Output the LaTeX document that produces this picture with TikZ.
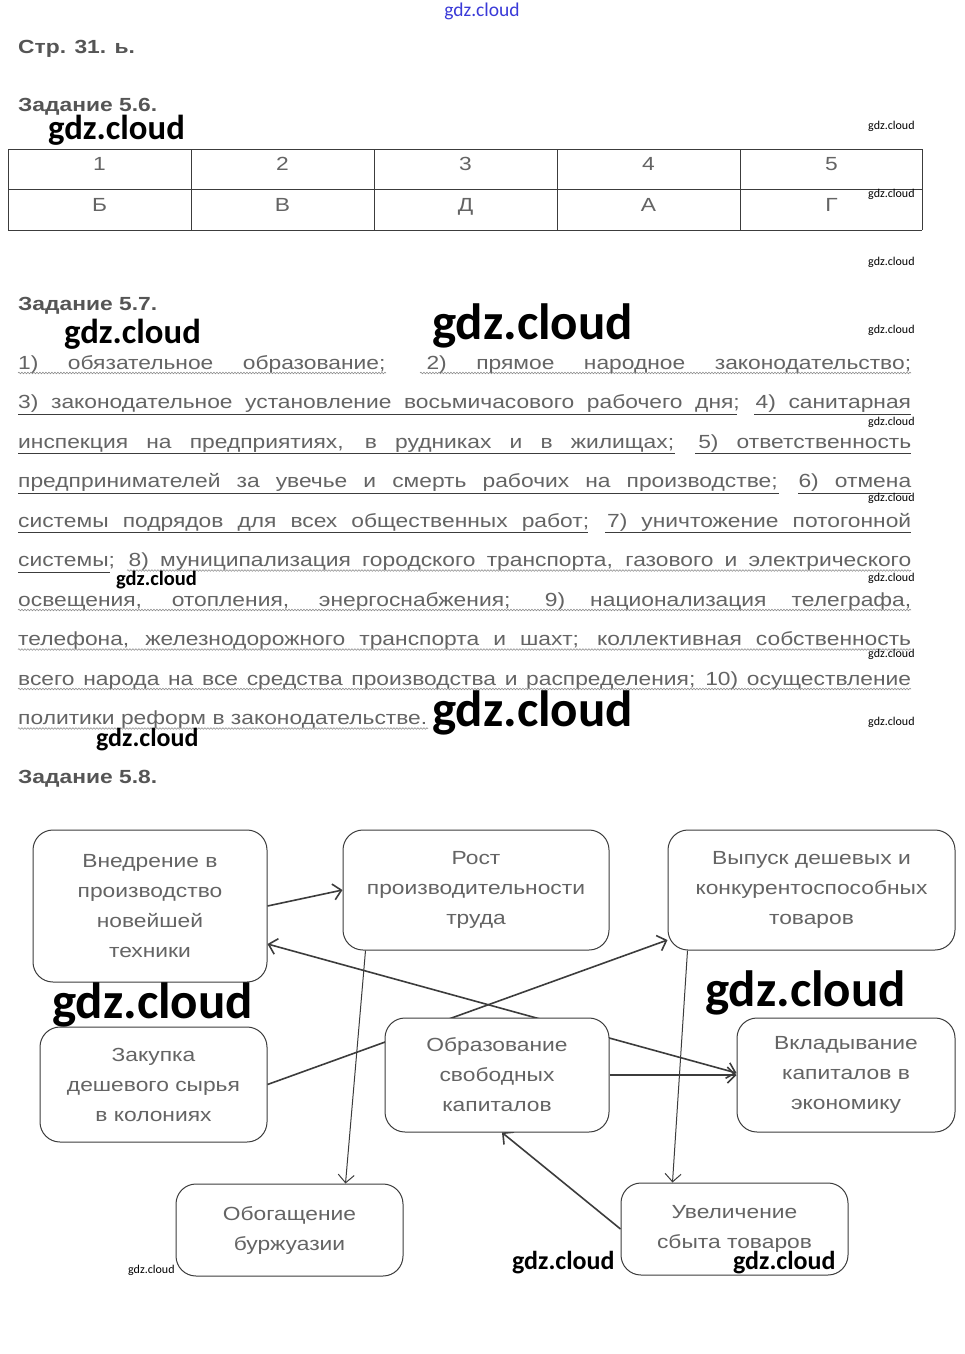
\documentclass[tikz,border=0pt]{standalone}
\usepackage{fontspec}
\setmainfont{Liberation Sans}
\newfontfamily\bodyfont[FakeStretch=1.2]{Liberation Sans}
\newfontfamily\wmfont{Carlito}
\usetikzlibrary{arrows.meta,positioning,backgrounds,decorations.pathmorphing}
\definecolor{txt}{HTML}{646464}
\definecolor{hdc}{HTML}{555555}
\definecolor{ln}{HTML}{3C3C3C}
\definecolor{wave}{HTML}{8E8E8E}
\definecolor{wmblue}{HTML}{3A3AD8}
\tikzset{
  box/.style={draw=ln,line width=1pt,rounded corners=20pt,fill=white,align=center,inner sep=0pt,text=txt,font=\bodyfont\fontsize{19}{30}\selectfont},
  ar/.style={-{Straight Barb[length=8pt,width=16pt]},line width=1.6pt,draw=ln},
  tar/.style={ar,line width=1pt},
  hd/.style={anchor=base west,inner sep=0pt,text=hdc,font=\bodyfont\bfseries\fontsize{19}{19}\selectfont},
  cell/.style={anchor=base,inner sep=0pt,text=txt,font=\bodyfont\fontsize{19}{19}\selectfont},
  jl/.style={anchor=base west,inner sep=0pt,text=txt,font=\bodyfont\fontsize{19}{19}\selectfont},
  sul/.style={draw=ln,line width=0.8pt},
  wul/.style={draw=wave,line width=0.6pt,decorate,decoration={snake,amplitude=0.8pt,segment length=3pt}},
  wm/.style={anchor=west,inner sep=0pt,font=\wmfont\bfseries\fontsize{#1}{#1}\selectfont},
  wms/.style={anchor=west,inner sep=0pt,font=\wmfont\fontsize{12}{12}\selectfont},
}
\begin{document}
\begin{tikzpicture}[x=1pt,y=-1pt]
\useasboundingbox (0,0) rectangle (965,1354);
% headings
\node[hd] (p31) at (18,53) {Стр. 31. ь.};
\node[hd] (z56) at (18,111) {Задание 5.6.};
\node[hd] (z57) at (18,310) {Задание 5.7.};
\node[hd] (z58) at (18,783) {Задание 5.8.};
% table 5.6
\draw[ln,line width=0.8pt] (8,149) -- (922,149) (8,189.5) -- (922,189.5) (8,230) -- (922,230);
\foreach \x in {8,191,374,557,740,922} \draw[ln,line width=0.8pt] (\x,149) -- (\x,230);
\foreach \i/\ltr in {1/Б,2/В,3/Д,4/А,5/Г} {
  \node[cell] (h\i) at ({8+183*(\i-1)+91.5},170) {\i};
  \node[cell] (a\i) at ({8+183*(\i-1)+91.5},211) {\ltr};
}
% text 5.7
\node[jl] (l1) at (18,369) {\makebox[893pt][s]{1) обязательное образование; 2) прямое народное законодательство;}};
\node[jl] (l2) at (18,408.5) {\makebox[893pt][s]{3)~законодательное установление восьмичасового рабочего дня; 4) санитарная}};
\node[jl] (l3) at (18,448) {\makebox[893pt][s]{инспекция на предприятиях, в рудниках и в жилищах; 5) ответственность}};
\node[jl] (l4) at (18,487.5) {\makebox[893pt][s]{предпринимателей за увечье и смерть рабочих на производстве; 6) отмена}};
\node[jl] (l5) at (18,527) {\makebox[893pt][s]{системы подрядов для всех общественных работ; 7) уничтожение потогонной}};
\node[jl] (l6) at (18,566.5) {\makebox[893pt][s]{системы; 8) муниципализация городского транспорта, газового и электрического}};
\node[jl] (l7) at (18,606) {\makebox[893pt][s]{освещения, отопления, энергоснабжения; 9) национализация телеграфа,}};
\node[jl] (l8) at (18,645.5) {\makebox[893pt][s]{телефона, железнодорожного транспорта и шахт; коллективная собственность}};
\node[jl] (l9) at (18,685) {\makebox[893pt][s]{всего народа на все средства производства и распределения; 10) осуществление}};
\node[jl] (l10) at (18,724.5) {политики реформ в законодательстве.};
\draw[wul] (18,373) -- (386,373);
\draw[wul] (420,373) -- (911,373);
\draw[sul] (18,414) -- (737,414) (754,414) -- (911,414);
\draw[sul] (18,453.5) -- (675,453.5) (695,453.5) -- (911,453.5);
\draw[sul] (18,493) -- (779,493) (798,493) -- (911,493);
\draw[sul] (18,532.5) -- (588,532.5) (605,532.5) -- (911,532.5);
\draw[sul] (18,572) -- (110,572);
\draw[wul] (127,570.5) -- (911,570.5);
\draw[wul] (18,610) -- (911,610);
\draw[wul] (18,649.5) -- (911,649.5);
\draw[wul] (18,689) -- (911,689);
\draw[wul] (18,728.5) -- (428,728.5);
% diagram 5.8
\node[box,minimum width=234pt,minimum height=152pt] (vnedr) at (150,906) {Внедрение в\\производство\\новейшей\\техники};
\node[box,minimum width=266pt,minimum height=120pt] (rost) at (476,890) {Рост\\производительности\\труда};
\node[box,minimum width=287pt,minimum height=120pt] (vyp) at (811.5,890) {Выпуск дешевых и\\конкурентоспособных\\товаров};
\node[box,minimum width=227pt,minimum height=115pt] (zak) at (153.5,1084.5) {Закупка\\дешевого сырья\\в колониях};
\node[box,minimum width=224pt,minimum height=114pt] (obr) at (497,1075) {Образование\\свободных\\капиталов};
\node[box,minimum width=218pt,minimum height=114pt] (vkl) at (846,1075) {Вкладывание\\капиталов в\\экономику};
\node[box,minimum width=227pt,minimum height=92pt] (obog) at (289.5,1230) {Обогащение\\буржуазии};
\node[box,minimum width=227pt,minimum height=92pt] (uvel) at (734.5,1229) {Увеличение\\сбыта товаров};
\begin{scope}[on background layer]
\fill[white] (0,0) rectangle (965,1354);
\draw[ar] (vnedr.east) -- (rost.west);
\draw[ar,{Straight Barb[length=8pt,width=16pt]}-{Straight Barb[length=8pt,width=16pt]}] ([yshift=-38pt]vnedr.east) -- ([yshift=2pt]vkl.west);
\draw[ar] (zak.east) -- ([yshift=-50pt]vyp.west);
\draw[ar] (obr.east) -- (vkl.west);
\draw[tar] ([xshift=23pt]rost.south west) -- ([xshift=56pt]obog.north);
\draw[tar] ([xshift=20pt]vyp.south west) -- ([xshift=-62pt]uvel.north);
\draw[ar] (uvel.west) -- ([xshift=5pt]obr.south);
\end{scope}
% watermarks
\node[anchor=center,inner sep=0pt,text=wmblue,font=\wmfont\fontsize{19.5}{20}\selectfont] (wtop) at (482,11) {gdz.cloud};
\foreach \y in {126,194,262,330,422,498,578,654,722} \node[wms] (ws\y) at (868,\y) {gdz.cloud};
\node[wm=34.7] (w1) at (48,130) {gdz.cloud};
\node[wm=51] (w2) at (432,326) {gdz.cloud};
\node[wm=34.7] (w3) at (64,334) {gdz.cloud};
\node[wm=20.5] (w4) at (116,580) {gdz.cloud};
\node[wm=26] (w5) at (96,740) {gdz.cloud};
\node[wm=51] (w6) at (432,713) {gdz.cloud};
\node[wm=51] (w7) at (52,1005) {gdz.cloud};
\node[wm=51] (w8) at (705,993) {gdz.cloud};
\node[wm=26] (w9) at (512,1263) {gdz.cloud};
\node[wm=26] (w10) at (733,1263) {gdz.cloud};
\node[wms] (w11) at (128,1270) {gdz.cloud};
\end{tikzpicture}
\end{document}
